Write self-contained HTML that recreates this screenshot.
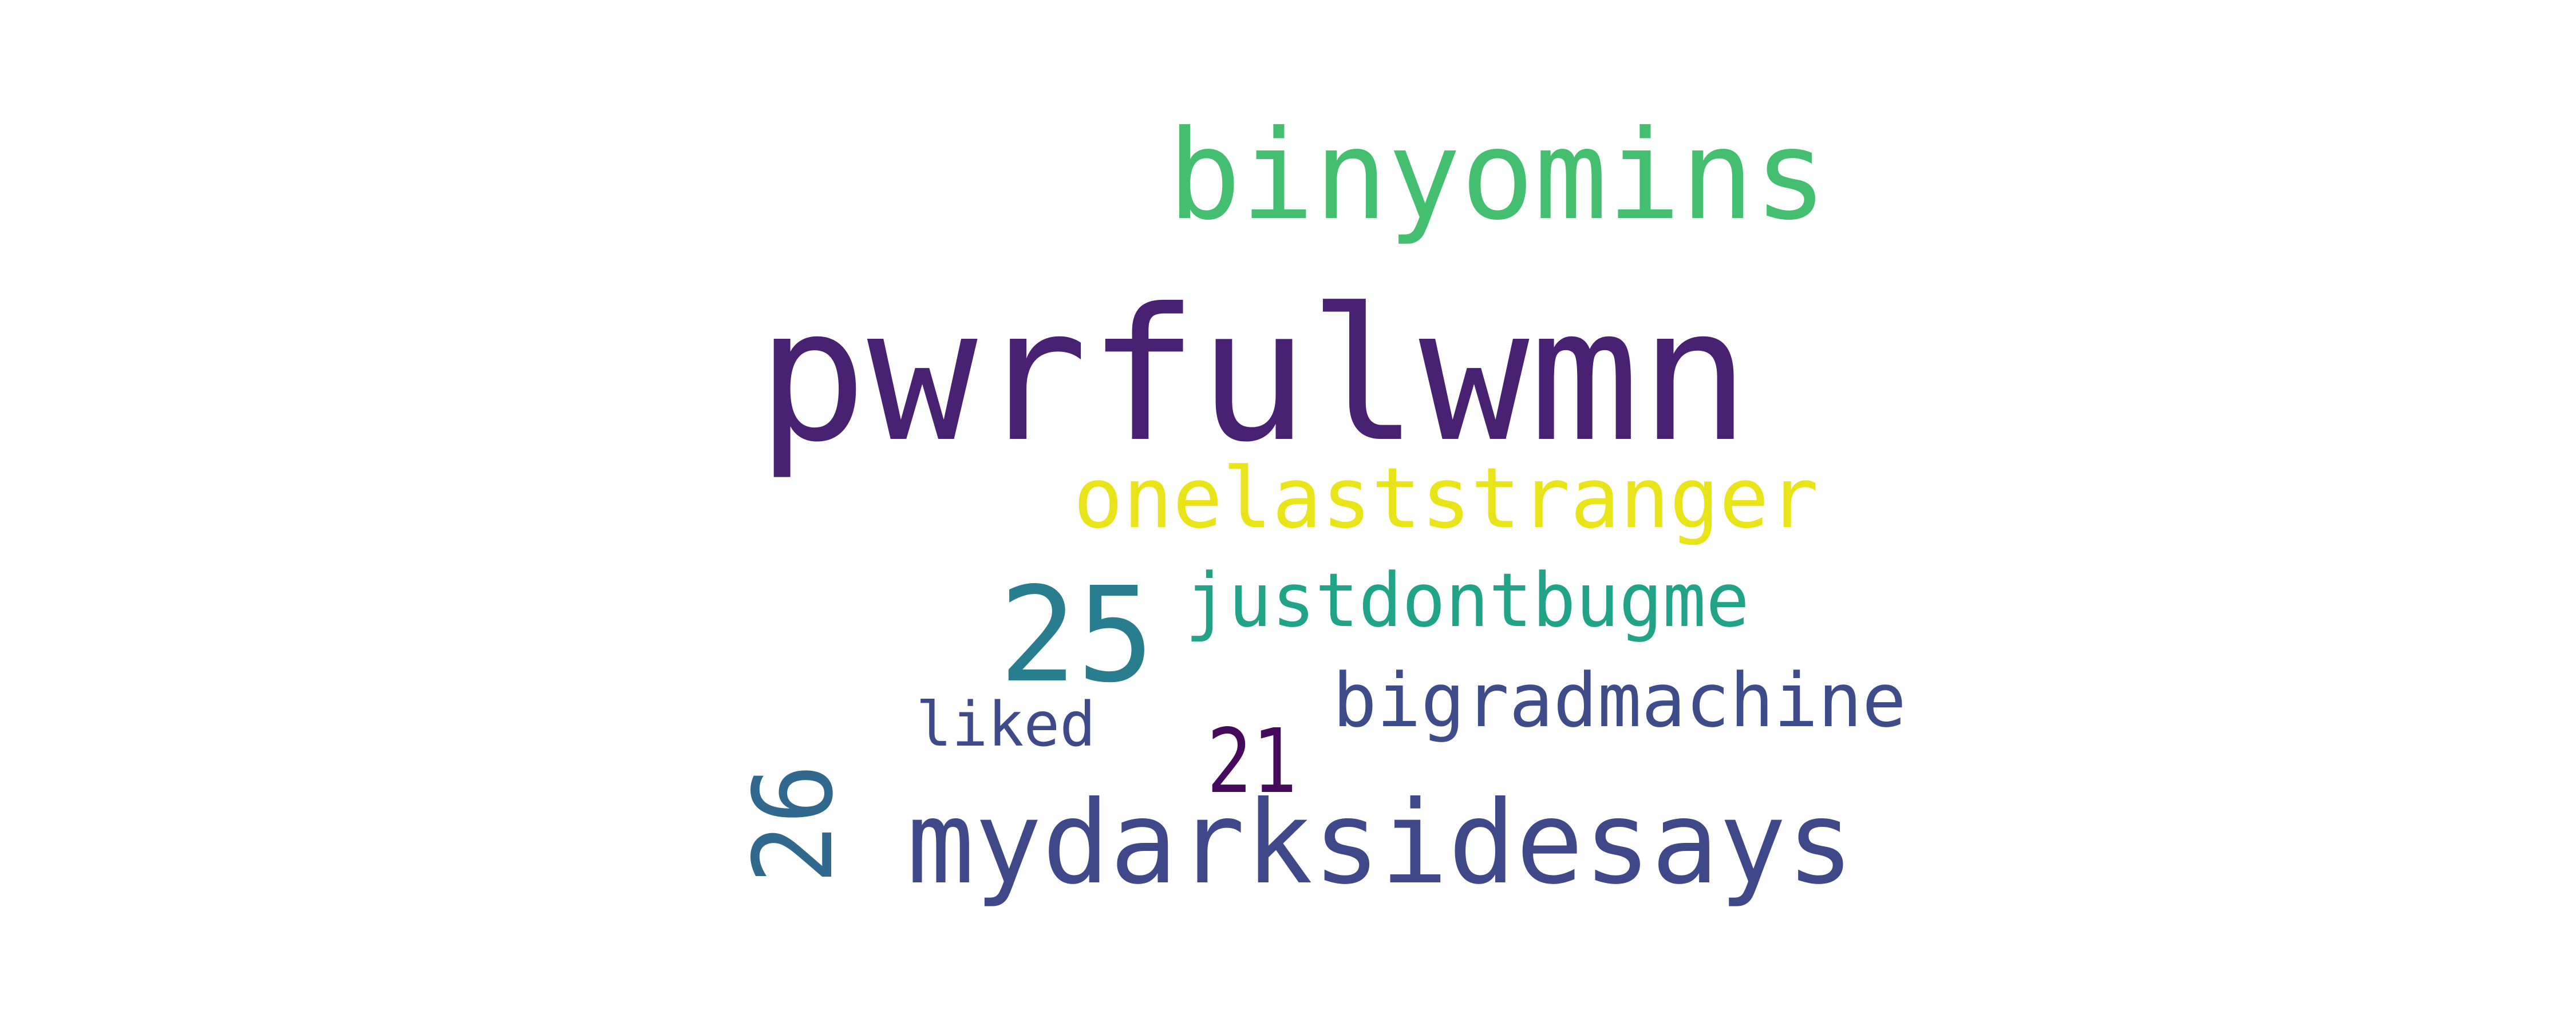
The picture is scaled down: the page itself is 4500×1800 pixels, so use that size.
<!DOCTYPE html>
<html><head><meta charset="utf-8"><style>html,body{margin:0;padding:0;background:#fff}svg{display:block}</style></head>
<body>
<svg width="4500" height="1800" viewBox="0 0 4500 1800" xmlns="http://www.w3.org/2000/svg" font-family="'DejaVu Sans Mono','Liberation Mono',monospace">
<rect width="4500" height="1800" fill="#fff"/>
<text x="2040" y="381" font-size="216" fill="#44bf70" textLength="1152" lengthAdjust="spacingAndGlyphs">binyomins</text>
<text x="1322" y="767" font-size="320" fill="#482173" textLength="1735" lengthAdjust="spacingAndGlyphs">pwrfulwmn</text>
<text x="1875" y="921" font-size="146" fill="#e8e419" textLength="1302" lengthAdjust="spacingAndGlyphs">onelaststranger</text>
<text x="2070" y="1094" font-size="130" fill="#20a386" textLength="986" lengthAdjust="spacingAndGlyphs">justdontbugme</text>
<text x="1745" y="1189" font-size="229" fill="#287d8e" textLength="272" lengthAdjust="spacingAndGlyphs">25</text>
<text x="2328" y="1269" font-size="130" fill="#3e4c8a" textLength="1002" lengthAdjust="spacingAndGlyphs">bigradmachine</text>
<text x="1600" y="1303" font-size="107" fill="#3e4a89" textLength="314" lengthAdjust="spacingAndGlyphs">liked</text>
<text x="2108" y="1384" font-size="155" fill="#450a5c" textLength="158" lengthAdjust="spacingAndGlyphs">21</text>
<text x="1584" y="1542" font-size="200" fill="#3f4889" textLength="1655" lengthAdjust="spacingAndGlyphs">mydarksidesays</text>
<text x="0" y="0" font-size="190" fill="#31688e" textLength="210" lengthAdjust="spacingAndGlyphs" transform="translate(1452,1545) rotate(-90)">26</text>
</svg>
</body></html>
